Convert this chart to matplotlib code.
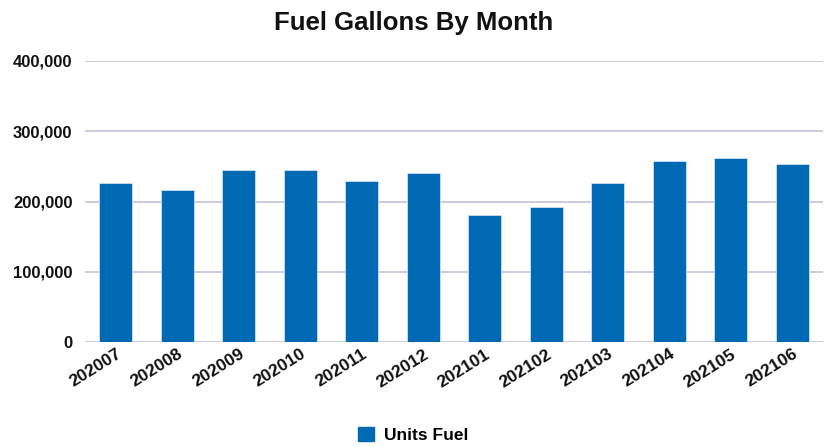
import matplotlib
matplotlib.use("Agg")
import matplotlib.pyplot as plt
from matplotlib.ticker import FuncFormatter
from matplotlib.patches import Patch

months = ["202007", "202008", "202009", "202010", "202011", "202012",
          "202101", "202102", "202103", "202104", "202105", "202106"]
units_fuel = [226700, 215900, 244700, 244700, 229100, 240000,
              181300, 192200, 226700, 258000, 262200, 253700]
y_ticks = [0, 100000, 200000, 300000, 400000]

plt.rcParams['font.family'] = ['Liberation Sans', 'DejaVu Sans']

fig = plt.figure(figsize=(8.28, 4.47), dpi=100)
ax = fig.add_axes([0.1027, 0.2342, 0.8913, 0.630])

bar_color = "#0069b4"
x = range(len(months))
ax.bar(x, units_fuel, width=0.54, color=bar_color, edgecolor="#cfe0f2", linewidth=0.6, zorder=3)

ax.set_xlim(-0.5, len(months) - 0.5)
ax.set_ylim(0, 400000)
ax.set_yticks(y_ticks)
ax.yaxis.set_major_formatter(FuncFormatter(lambda v, p: f"{int(v):,}"))
ax.grid(axis='y', color="#c9c5dc", linewidth=1.3, zorder=0)
ax.set_axisbelow(True)
for s in ax.spines.values():
    s.set_visible(False)
ax.tick_params(axis='both', length=0)
ax.tick_params(axis='y', pad=9)
for lab in ax.get_yticklabels():
    lab.set_fontweight('bold')
    lab.set_fontsize(12)
    lab.set_color('#111111')

ax.set_xticks(list(x))
ax.set_xticklabels(months, rotation=32, ha='right', rotation_mode='anchor',
                   fontsize=12.5, fontweight='bold', color='#111111')
ax.tick_params(axis='x', pad=3)

fig.text(0.499, 0.948, "Fuel Gallons By Month", ha='center', va='center',
         fontsize=18.5, fontweight='bold', color='#111111')

leg = fig.legend(handles=[Patch(facecolor=bar_color, edgecolor=bar_color, label="Units Fuel")],
                 loc='center', bbox_to_anchor=(0.499, 0.027), frameon=False,
                 prop={'weight': 'bold', 'size': 12.5}, handlelength=0.9, handleheight=0.9,
                 handletextpad=0.6)

fig.savefig("out.png", dpi=100)
